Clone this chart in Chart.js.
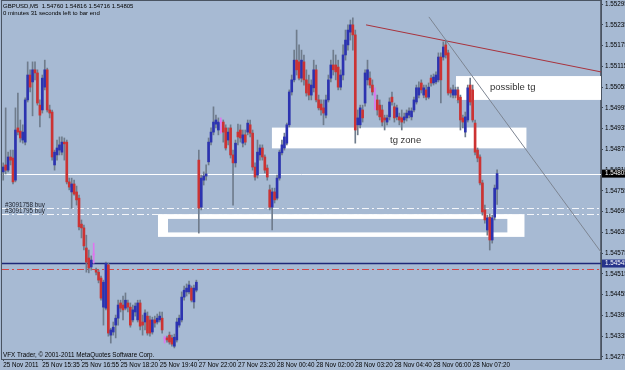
<!DOCTYPE html>
<html>
<head>
<meta charset="utf-8">
<title>GBPUSD,M5</title>
<script src="https://cdn.jsdelivr.net/npm/chart.js@4.4.0/dist/chart.umd.min.js"></script>
<style>
  html, body { margin: 0; padding: 0; background: #a7bad3; }
  canvas { display: block; }
</style>
</head>
<body>
<canvas id="chart" width="625" height="370"></canvas>
<script>
// GBPUSD M5, 25 Nov 2011 14:15 .. 28 Nov 2011 08:05 (one entry per bar)
const opens = [
  1.54810, 1.54830, 1.54815, 1.54853, 1.54850, 1.54786, 1.54937, 1.54928, 1.54902, 1.54896,
  1.55018, 1.55090, 1.55070, 1.55105, 1.55096, 1.55003, 1.54989, 1.55055, 1.55105, 1.54989,
  1.54983, 1.54830, 1.54859, 1.54873, 1.54867, 1.54896, 1.54896, 1.54781, 1.54752, 1.54775,
  1.54752, 1.54734, 1.54659, 1.54648, 1.54590, 1.54561, 1.54535, 1.54570, 1.54526, 1.54520,
  1.54503, 1.54419, 1.54416, 1.54541, 1.54338, 1.54347, 1.54367, 1.54387, 1.54431, 1.54425,
  1.54416, 1.54431, 1.54419, 1.54382, 1.54405, 1.54382, 1.54431, 1.54376, 1.54376, 1.54393,
  1.54382, 1.54347, 1.54382, 1.54376, 1.54382, 1.54387, 1.54327, 1.54330, 1.54338, 1.54330,
  1.54306, 1.54324, 1.54367, 1.54382, 1.54448, 1.54463, 1.54463, 1.54474, 1.54434, 1.54468,
  1.54844, 1.54708, 1.54786, 1.54798, 1.54839, 1.54896, 1.54925, 1.54948, 1.54931, 1.54954,
  1.54954, 1.54937, 1.54902, 1.54937, 1.54859, 1.54836, 1.54925, 1.54931, 1.54893, 1.54917,
  1.54925, 1.54946, 1.54922, 1.54824, 1.54801, 1.54859, 1.54879, 1.54853, 1.54821, 1.54758,
  1.54708, 1.54752, 1.54734, 1.54792, 1.54865, 1.54879, 1.54893, 1.54946, 1.55041, 1.55076,
  1.55133, 1.55128, 1.55081, 1.55128, 1.55076, 1.55064, 1.55032, 1.55053, 1.55105, 1.55018,
  1.55006, 1.54995, 1.54974, 1.55018, 1.55081, 1.55119, 1.55119, 1.55113, 1.55055, 1.55090,
  1.55148, 1.55177, 1.55214, 1.55235, 1.55206, 1.54946, 1.54946, 1.54989, 1.55009, 1.55076,
  1.55081, 1.55061, 1.55032, 1.55018, 1.55003, 1.54989, 1.54966, 1.54954, 1.54969, 1.55026,
  1.54998, 1.54969, 1.54969, 1.54966, 1.54960, 1.54966, 1.54974, 1.54969, 1.54989, 1.55012,
  1.55032, 1.55067, 1.55032, 1.55047, 1.55026, 1.55081, 1.55067, 1.55070, 1.55076, 1.55142,
  1.55142, 1.55177, 1.55154, 1.55047, 1.55032, 1.55032, 1.55047, 1.55026, 1.54966, 1.54925,
  1.54960, 1.55061, 1.55047, 1.54951, 1.54873, 1.54853, 1.54778, 1.54700, 1.54642, 1.54679,
  1.54613, 1.54679, 1.54760
];
const highs = [
  1.54836, 1.54995, 1.54867, 1.54873, 1.54873, 1.54995, 1.55038, 1.54960, 1.54946, 1.55024,
  1.55128, 1.55105, 1.55128, 1.55128, 1.55105, 1.55018, 1.55090, 1.55133, 1.55110, 1.55003,
  1.54989, 1.54873, 1.54902, 1.54911, 1.54911, 1.54908, 1.54902, 1.54792, 1.54792, 1.54786,
  1.54769, 1.54743, 1.54671, 1.54656, 1.54627, 1.54584, 1.54567, 1.54604, 1.54532, 1.54526,
  1.54509, 1.54497, 1.54549, 1.54546, 1.54358, 1.54376, 1.54396, 1.54439, 1.54439, 1.54451,
  1.54460, 1.54439, 1.54431, 1.54425, 1.54431, 1.54439, 1.54439, 1.54396, 1.54411, 1.54405,
  1.54393, 1.54390, 1.54393, 1.54399, 1.54405, 1.54405, 1.54335, 1.54335, 1.54347, 1.54338,
  1.54341, 1.54387, 1.54396, 1.54463, 1.54480, 1.54486, 1.54494, 1.54480, 1.54483, 1.54497,
  1.54873, 1.54801, 1.54810, 1.54830, 1.54908, 1.54937, 1.54998, 1.54974, 1.54966, 1.54966,
  1.54960, 1.54946, 1.54937, 1.54946, 1.54873, 1.54902, 1.54948, 1.54946, 1.54931, 1.54931,
  1.54960, 1.54960, 1.54931, 1.54836, 1.54902, 1.54888, 1.54888, 1.54859, 1.54830, 1.54772,
  1.54763, 1.54763, 1.54801, 1.54873, 1.54902, 1.54922, 1.54951, 1.55047, 1.55090, 1.55162,
  1.55220, 1.55177, 1.55162, 1.55148, 1.55105, 1.55090, 1.55076, 1.55133, 1.55119, 1.55032,
  1.55018, 1.55018, 1.55032, 1.55090, 1.55133, 1.55162, 1.55148, 1.55133, 1.55105, 1.55177,
  1.55220, 1.55235, 1.55249, 1.55255, 1.55220, 1.54989, 1.55003, 1.55003, 1.55105, 1.55133,
  1.55099, 1.55076, 1.55053, 1.55032, 1.55018, 1.55003, 1.54974, 1.54974, 1.55024, 1.55041,
  1.55009, 1.55003, 1.54980, 1.54989, 1.54980, 1.54989, 1.54995, 1.54995, 1.55026, 1.55061,
  1.55070, 1.55076, 1.55061, 1.55061, 1.55067, 1.55090, 1.55093, 1.55099, 1.55154, 1.55154,
  1.55186, 1.55191, 1.55162, 1.55053, 1.55061, 1.55055, 1.55055, 1.55032, 1.54974, 1.54983,
  1.55061, 1.55081, 1.55061, 1.54960, 1.54879, 1.54859, 1.54786, 1.54714, 1.54685, 1.54688,
  1.54685, 1.54772, 1.54816
];
const lows = [
  1.54786, 1.54804, 1.54810, 1.54830, 1.54775, 1.54781, 1.54917, 1.54896, 1.54893, 1.54888,
  1.55012, 1.55041, 1.54972, 1.55076, 1.55003, 1.54940, 1.54980, 1.55047, 1.54983, 1.54966,
  1.54844, 1.54815, 1.54844, 1.54859, 1.54859, 1.54844, 1.54775, 1.54758, 1.54705, 1.54743,
  1.54714, 1.54642, 1.54619, 1.54584, 1.54520, 1.54518, 1.54526, 1.54546, 1.54512, 1.54489,
  1.54439, 1.54367, 1.54411, 1.54335, 1.54315, 1.54338, 1.54330, 1.54367, 1.54405, 1.54382,
  1.54411, 1.54405, 1.54361, 1.54376, 1.54393, 1.54376, 1.54353, 1.54338, 1.54353, 1.54338,
  1.54335, 1.54341, 1.54361, 1.54370, 1.54376, 1.54344, 1.54315, 1.54318, 1.54312, 1.54306,
  1.54301, 1.54318, 1.54361, 1.54376, 1.54439, 1.54451, 1.54457, 1.54434, 1.54416, 1.54463,
  1.54633, 1.54700, 1.54772, 1.54786, 1.54830, 1.54888, 1.54917, 1.54937, 1.54917, 1.54922,
  1.54896, 1.54873, 1.54888, 1.54850, 1.54714, 1.54824, 1.54888, 1.54896, 1.54882, 1.54888,
  1.54917, 1.54911, 1.54815, 1.54786, 1.54792, 1.54844, 1.54844, 1.54807, 1.54786, 1.54700,
  1.54642, 1.54720, 1.54729, 1.54786, 1.54859, 1.54873, 1.54888, 1.54940, 1.55032, 1.55070,
  1.55090, 1.55076, 1.55070, 1.55061, 1.55029, 1.55018, 1.55018, 1.55041, 1.55012, 1.54989,
  1.54974, 1.54946, 1.54966, 1.55012, 1.55070, 1.55090, 1.55076, 1.55047, 1.55047, 1.55076,
  1.55133, 1.55162, 1.55191, 1.55162, 1.54893, 1.54917, 1.54937, 1.54954, 1.55000, 1.55061,
  1.55053, 1.55032, 1.54989, 1.54974, 1.54960, 1.54943, 1.54931, 1.54946, 1.54960, 1.55003,
  1.54954, 1.54960, 1.54946, 1.54931, 1.54951, 1.54957, 1.54966, 1.54960, 1.54983, 1.55006,
  1.55024, 1.55038, 1.55024, 1.55018, 1.55021, 1.55058, 1.55061, 1.55064, 1.55070, 1.55009,
  1.55133, 1.55139, 1.55032, 1.55026, 1.55024, 1.55024, 1.55009, 1.54931, 1.54937, 1.54911,
  1.54954, 1.55003, 1.54954, 1.54859, 1.54839, 1.54772, 1.54685, 1.54662, 1.54627, 1.54584,
  1.54604, 1.54671, 1.54716
];
const closes = [
  1.54824, 1.54815, 1.54853, 1.54844, 1.54781, 1.54931, 1.54925, 1.54908, 1.54925, 1.55018,
  1.55090, 1.55055, 1.55105, 1.55096, 1.55009, 1.54974, 1.55081, 1.55105, 1.54989, 1.54980,
  1.54853, 1.54867, 1.54879, 1.54888, 1.54896, 1.54891, 1.54781, 1.54766, 1.54775, 1.54746,
  1.54729, 1.54651, 1.54648, 1.54596, 1.54549, 1.54532, 1.54555, 1.54570, 1.54520, 1.54497,
  1.54445, 1.54491, 1.54546, 1.54344, 1.54353, 1.54361, 1.54387, 1.54425, 1.54416, 1.54411,
  1.54439, 1.54419, 1.54367, 1.54411, 1.54422, 1.54431, 1.54364, 1.54367, 1.54402, 1.54344,
  1.54344, 1.54382, 1.54373, 1.54387, 1.54393, 1.54353, 1.54327, 1.54324, 1.54318, 1.54312,
  1.54332, 1.54376, 1.54387, 1.54448, 1.54468, 1.54474, 1.54483, 1.54439, 1.54474, 1.54491,
  1.54705, 1.54792, 1.54798, 1.54804, 1.54896, 1.54925, 1.54954, 1.54960, 1.54954, 1.54954,
  1.54925, 1.54879, 1.54925, 1.54859, 1.54836, 1.54893, 1.54911, 1.54908, 1.54917, 1.54896,
  1.54951, 1.54922, 1.54824, 1.54795, 1.54867, 1.54879, 1.54853, 1.54815, 1.54795, 1.54708,
  1.54752, 1.54729, 1.54792, 1.54867, 1.54888, 1.54911, 1.54946, 1.55041, 1.55076, 1.55133,
  1.55105, 1.55081, 1.55133, 1.55076, 1.55038, 1.55032, 1.55061, 1.55105, 1.55018, 1.54995,
  1.54989, 1.54980, 1.55018, 1.55076, 1.55119, 1.55105, 1.55099, 1.55055, 1.55090, 1.55148,
  1.55191, 1.55220, 1.55235, 1.55206, 1.54931, 1.54966, 1.54995, 1.54966, 1.55096, 1.55105,
  1.55061, 1.55041, 1.55032, 1.54989, 1.54969, 1.54954, 1.54960, 1.54966, 1.55012, 1.55012,
  1.54966, 1.54995, 1.54960, 1.54954, 1.54969, 1.54980, 1.54986, 1.54986, 1.55018, 1.55053,
  1.55053, 1.55047, 1.55053, 1.55026, 1.55055, 1.55067, 1.55084, 1.55090, 1.55142, 1.55076,
  1.55171, 1.55148, 1.55038, 1.55038, 1.55047, 1.55047, 1.55018, 1.54960, 1.54954, 1.54969,
  1.55053, 1.55012, 1.54960, 1.54867, 1.54850, 1.54778, 1.54694, 1.54671, 1.54677, 1.54613,
  1.54677, 1.54763, 1.54805
];

const priceTicks = [
  1.54275, 1.54335, 1.54395, 1.54455, 1.54515, 1.54575, 1.54635, 1.54695, 1.54755,
  1.54815, 1.54875, 1.54935, 1.54995, 1.55055, 1.55115, 1.55175, 1.55235, 1.55295
];
const timeTickBars = [0, 16, 32, 48, 64, 80, 96, 112, 128, 144, 160, 176, 192];
const timeTickLabels = [
  "25 Nov 2011", "25 Nov 15:35", "25 Nov 16:55", "25 Nov 18:20", "25 Nov 19:40",
  "27 Nov 22:00", "27 Nov 23:20", "28 Nov 00:40", "28 Nov 02:00", "28 Nov 03:20",
  "28 Nov 04:40", "28 Nov 06:00", "28 Nov 07:20"
];
const barSlots = 245; // visible bar positions incl. the empty right margin

// objects on the chart (bar index / price)
const bidPrice = 1.54805;
const levelPrice = 1.54545;
const stopPrice = 1.54528;
const orderPrices = [1.54705, 1.54687];
const orderNames = ["#3091758 buy", "#3091795 buy"];

const BG = "#a7bad3";
const BLUE = "#2c33b0", RED = "#cc3333", DOJI = "#dd77ee", WICK = "#6f7c8c";

const zones = [
  { from: 63.3, to: 213.2, top: 1.54688, bottom: 1.54622, color: "#ffffff" },
  { from: 67.4, to: 206.2, top: 1.54674, bottom: 1.54635, color: BG },
  { from: 109.9, to: 214.0, top: 1.54938, bottom: 1.54878, color: "#ffffff" },
  { from: 185.2, to: 250, top: 1.55087, bottom: 1.55018, color: "#ffffff" }
];
const notes = [
  { bar: 158.2, price: 1.54902, text: "tg zone" },
  { bar: 199.1, price: 1.55055, text: "possible tg" }
];
const trends = [
  { b0: 148.4, p0: 1.55235, b1: 244.5, p1: 1.55099, color: "#a8323c" },
  { b0: 174.1, p0: 1.55258, b1: 244.5, p1: 1.54578, color: "#7d8592" }
];

Chart.defaults.font.family = "'Liberation Sans', Arial, sans-serif";
Chart.defaults.font.size = 6.3;
Chart.defaults.color = "#000";

const slotLabels = Array.from({ length: barSlots }, (_, i) => i);
const bodyColors = opens.map((o, i) => closes[i] > o ? BLUE : closes[i] < o ? RED : DOJI);
const wickColors = opens.map((o, i) => closes[i] === o ? DOJI : WICK);

function hline(ctx, a, yy, color, width, dash) {
  ctx.beginPath();
  ctx.setLineDash(dash || []);
  ctx.strokeStyle = color;
  ctx.lineWidth = width;
  ctx.moveTo(a.left, yy);
  ctx.lineTo(a.right, yy);
  ctx.stroke();
}

const overlay = {
  id: "overlay",
  beforeDatasetsDraw(chart) {
    const { ctx, chartArea: a, scales: { x, y } } = chart;
    ctx.save();
    ctx.beginPath();
    ctx.rect(a.left, a.top, a.right - a.left, a.bottom - a.top);
    ctx.clip();
    zones.forEach(z => {
      const x0 = x.getPixelForValue(z.from), x1 = x.getPixelForValue(z.to);
      const y0 = y.getPixelForValue(z.top), y1 = y.getPixelForValue(z.bottom);
      ctx.fillStyle = z.color;
      ctx.fillRect(x0, y0, x1 - x0, y1 - y0);
    });
    ctx.font = "9.5px 'Liberation Sans', Arial, sans-serif";
    ctx.fillStyle = "#333333";
    ctx.textBaseline = "middle";
    notes.forEach(n => ctx.fillText(n.text, x.getPixelForValue(n.bar), y.getPixelForValue(n.price)));

    hline(ctx, a, Math.round(y.getPixelForValue(bidPrice)) + 0.5, "#ffffff", 1);
    orderPrices.forEach(p => hline(ctx, a, Math.round(y.getPixelForValue(p)) + 0.5, "#f4f6fa", 1, [7, 3, 2, 3]));
    hline(ctx, a, y.getPixelForValue(levelPrice), "#1d2878", 1.6);
    hline(ctx, a, Math.round(y.getPixelForValue(stopPrice)) + 0.5, "#d84444", 1, [7, 3, 2, 3]);

    ctx.setLineDash([]);
    ctx.lineWidth = 1;
    trends.forEach(t => {
      ctx.strokeStyle = t.color;
      ctx.beginPath();
      ctx.moveTo(x.getPixelForValue(t.b0), y.getPixelForValue(t.p0));
      ctx.lineTo(x.getPixelForValue(t.b1), y.getPixelForValue(t.p1));
      ctx.stroke();
    });
    ctx.restore();
  },
  afterDraw(chart) {
    const { ctx, chartArea: a, scales: { y } } = chart;
    ctx.save();
    ctx.strokeStyle = "#4a5462";
    ctx.lineWidth = 1;
    ctx.strokeRect(a.left - 0.5, a.top - 0.5, a.right - a.left + 1, a.bottom - a.top + 1);

    ctx.font = "6px 'Liberation Sans', Arial, sans-serif";
    ctx.textBaseline = "middle";
    ctx.fillStyle = "#000";
    ctx.fillText("GBPUSD,M5  1.54760 1.54816 1.54716 1.54805", 3, 6);
    ctx.fillText("0 minutes 31 seconds left to bar end", 3, 13);
    ctx.font = "6.3px 'Liberation Sans', Arial, sans-serif";
    ctx.fillText("VFX Trader, \u00a9 2001-2011 MetaQuotes Software Corp.", 3, 355);
    ctx.fillStyle = "#1a1f2a";
    orderPrices.forEach((p, i) => ctx.fillText(orderNames[i], 5, y.getPixelForValue(p) - 3));

    // price boxes on the axis
    [[bidPrice, "#000000"], [levelPrice, "#26338a"]].forEach(([p, c]) => {
      const yy = y.getPixelForValue(p);
      ctx.fillStyle = c;
      ctx.fillRect(a.right + 1, yy - 4, 30, 8);
      ctx.fillStyle = "#ffffff";
      ctx.fillText(p.toFixed(5), a.right + 4, yy);
    });
    ctx.restore();
  }
};

new Chart(document.getElementById("chart"), {
  type: "bar",
  data: {
    labels: slotLabels,
    datasets: [
      {
        data: opens.map((o, i) => [o, closes[i]]),
        backgroundColor: bodyColors,
        barThickness: 2,
        minBarLength: 1,
        grouped: false,
        order: 0
      },
      {
        data: lows.map((l, i) => [l, highs[i]]),
        backgroundColor: wickColors,
        barThickness: 1,
        grouped: false,
        order: 1
      }
    ]
  },
  options: {
    responsive: false,
    animation: false,
    devicePixelRatio: 1,
    layout: { padding: { left: 2, top: 1, right: 0, bottom: 0 } },
    plugins: { legend: { display: false }, tooltip: { enabled: false } },
    scales: {
      x: {
        type: "category",
        offset: true,
        afterBuildTicks: s => { s.ticks = timeTickBars.map(v => ({ value: v })); },
        afterFit: s => { s.height = 11; s.paddingLeft = 0; s.paddingRight = 0; },
        ticks: {
          autoSkip: false,
          maxRotation: 0,
          align: "start",
          padding: 0,
          callback: (v, i) => timeTickLabels[i]
        },
        grid: { offset: false, drawOnChartArea: false, drawTicks: true, tickLength: 2, color: "#3e4856" },
        border: { color: "#4a5462" }
      },
      y: {
        type: "linear",
        position: "right",
        min: 1.54269,
        max: 1.55304,
        afterBuildTicks: s => { s.ticks = priceTicks.map(v => ({ value: v })); },
        afterFit: s => { s.width = 24; s.paddingTop = 0; s.paddingBottom = 0; },
        ticks: { padding: 2, callback: v => v.toFixed(5) },
        grid: { drawOnChartArea: false, drawTicks: true, tickLength: 2, color: "#3e4856" },
        border: { color: "#5d6776", width: 1.5 }
      }
    }
  },
  plugins: [overlay]
});
</script>
</body>
</html>
